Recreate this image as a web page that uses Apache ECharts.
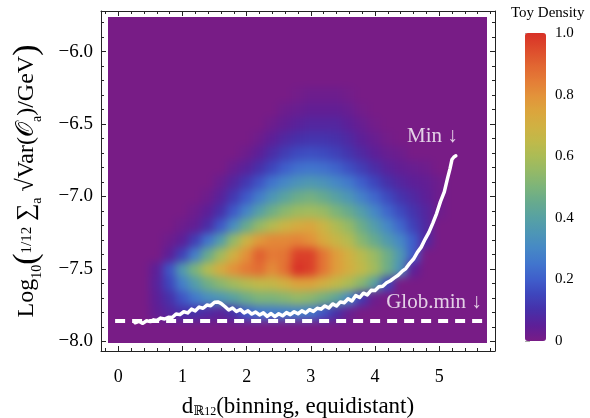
<!DOCTYPE html>
<html><head><meta charset="utf-8">
<script src="https://cdn.jsdelivr.net/npm/echarts@6/dist/echarts.min.js"></script>
<style>
html,body{margin:0;padding:0;background:#fff;}
#wrap{position:relative;width:590px;height:418px;overflow:hidden;}
#heat{position:absolute;left:0;top:0;width:590px;height:418px;background:#781c86;filter:blur(4px);clip-path:inset(17px 103px 75px 108px);}
#main{position:absolute;left:0;top:0;width:590px;height:418px;}
</style></head><body>
<div id="wrap"><div id="heat"></div><div id="main"></div></div>
<script>
// ---------------- data ----------------
const xTickValues = [0, 1, 2, 3, 4, 5];
const yTickValues = [-8.0, -7.5, -7.0, -6.5, -6.0];

const minX = [0.26,0.32,0.38,0.44,0.50,0.55,0.60,0.66,0.72,0.78,0.84,0.90,0.96,1.02,1.08,1.14,1.20,1.26,1.32,1.38,1.44,1.50,1.55,1.60,1.66,1.72,1.78,1.84,1.90,1.96,2.02,2.08,2.14,2.20,2.26,2.32,2.38,2.44,2.50,2.56,2.62,2.68,2.74,2.80,2.86,2.92,2.98,3.04,3.10,3.16,3.22,3.28,3.34,3.40,3.46,3.52,3.58,3.64,3.70,3.76,3.82,3.88,3.94,4.00,4.06,4.12,4.18,4.24,4.30,4.36,4.42,4.48,4.54,4.60,4.66,4.72,4.78,4.84,4.90,4.96,5.02,5.08,5.13,5.17,5.20,5.23,5.26];
const minY = [-7.872,-7.862,-7.876,-7.858,-7.864,-7.852,-7.856,-7.840,-7.846,-7.834,-7.836,-7.812,-7.816,-7.796,-7.804,-7.778,-7.790,-7.764,-7.772,-7.750,-7.754,-7.730,-7.728,-7.738,-7.760,-7.784,-7.770,-7.794,-7.780,-7.804,-7.790,-7.812,-7.798,-7.818,-7.804,-7.828,-7.808,-7.830,-7.810,-7.824,-7.802,-7.816,-7.796,-7.810,-7.790,-7.804,-7.782,-7.794,-7.772,-7.778,-7.756,-7.770,-7.742,-7.756,-7.728,-7.734,-7.706,-7.722,-7.684,-7.698,-7.668,-7.680,-7.648,-7.650,-7.624,-7.620,-7.596,-7.582,-7.562,-7.544,-7.518,-7.498,-7.462,-7.432,-7.386,-7.350,-7.296,-7.248,-7.186,-7.118,-7.036,-6.968,-6.876,-6.806,-6.745,-6.728,-6.720];

const globMinY = -7.86;
const globMinX = [-0.05, 5.74];

const densityX = [0.6,0.8,1.0,1.2,1.4,1.6,1.8,2.0,2.2,2.4,2.6,2.8,3.0,3.2,3.4,3.6,3.8,4.0,4.2,4.4,4.6,4.8,5.0,5.2,5.4];
const densityY = [-7.8,-7.7,-7.6,-7.5,-7.4,-7.3,-7.2,-7.1,-7.0,-6.9,-6.8,-6.7,-6.6,-6.5,-6.4,-6.3];
const density = [
 [0.04,0.07,0.10,0.10,0.08,0.06,0.10,0.20,0.25,0.26,0.27,0.28,0.26,0.18,0.10,0.03,0,0,0,0,0,0,0,0,0],
 [0.05,0.10,0.18,0.26,0.32,0.35,0.40,0.46,0.50,0.50,0.52,0.55,0.53,0.48,0.42,0.30,0.12,0.02,0,0,0,0,0,0,0],
 [0.06,0.15,0.28,0.38,0.47,0.53,0.58,0.62,0.65,0.66,0.70,0.75,0.75,0.70,0.65,0.60,0.52,0.40,0.15,0,0,0,0,0,0],
 [0.05,0.18,0.37,0.50,0.62,0.72,0.80,0.85,0.88,0.81,0.87,1.00,0.97,0.86,0.77,0.71,0.65,0.58,0.47,0.34,0.05,0,0,0,0],
 [0,0.05,0.14,0.28,0.45,0.58,0.70,0.80,0.91,0.85,0.86,0.97,0.97,0.86,0.77,0.70,0.63,0.56,0.47,0.36,0.20,0,0,0,0],
 [0,0.02,0.05,0.13,0.25,0.38,0.55,0.68,0.78,0.82,0.82,0.83,0.80,0.73,0.67,0.62,0.52,0.45,0.37,0.30,0.20,0.08,0,0,0],
 [0,0,0.02,0.04,0.09,0.19,0.32,0.45,0.55,0.62,0.68,0.72,0.74,0.68,0.61,0.55,0.46,0.38,0.30,0.22,0.14,0.08,0,0,0],
 [0,0,0,0.02,0.05,0.10,0.19,0.29,0.39,0.47,0.53,0.57,0.58,0.56,0.50,0.45,0.38,0.30,0.22,0.16,0.11,0.07,0.02,0,0],
 [0,0,0,0,0.02,0.06,0.12,0.19,0.27,0.35,0.41,0.46,0.48,0.45,0.40,0.35,0.28,0.22,0.16,0.11,0.08,0.05,0.02,0,0],
 [0,0,0,0,0,0.03,0.07,0.12,0.18,0.25,0.30,0.34,0.36,0.34,0.30,0.26,0.20,0.15,0.10,0.07,0.05,0.04,0.02,0,0],
 [0,0,0,0,0,0,0.03,0.06,0.10,0.15,0.20,0.24,0.25,0.24,0.21,0.17,0.13,0.09,0.06,0.04,0.03,0.02,0,0,0],
 [0,0,0,0,0,0,0,0.02,0.05,0.09,0.13,0.16,0.17,0.16,0.14,0.11,0.08,0.05,0.03,0.02,0,0,0,0,0],
 [0,0,0,0,0,0,0,0,0.02,0.05,0.08,0.10,0.11,0.11,0.10,0.08,0.05,0.03,0.01,0,0,0,0,0,0],
 [0,0,0,0,0,0,0,0,0,0.02,0.04,0.06,0.07,0.07,0.07,0.05,0.03,0.01,0,0,0,0,0,0,0],
 [0,0,0,0,0,0,0,0,0,0,0.02,0.03,0.04,0.04,0.04,0.03,0.01,0,0,0,0,0,0,0,0],
 [0,0,0,0,0,0,0,0,0,0,0,0.01,0.02,0.02,0.02,0.01,0,0,0,0,0,0,0,0,0]
];

// ---------------- styles ----------------
const FONT = "'Liberation Serif','DejaVu Serif',serif";
const rainbow = ['#781c86','#5d1f98','#4730a9','#3e45bc','#3f5ecb','#4175cd','#4688c6','#4d96b6','#57a1a3','#67aa8e','#7cb47a','#94b967','#abbc56','#c1b949','#d1b042','#dca43c','#e3913a','#e47a36','#e16331','#dd4a2c','#d83127'];
const X_MIN = -0.27, X_MAX = 5.87, Y_MIN = -8.067, Y_MAX = -5.72;
const GRID = {left: 101, right: 95, top: 11, bottom: 67, containLabel: false, outerBoundsMode: 'none'};
const FRAME = '#222';

const minorX = [];
for (let k = -1; k <= 29; k++) { if (k % 5 !== 0) minorX.push(+(k * 0.2).toFixed(2)); }
const minorY = [];
for (let k = -80; k <= -58; k++) { if (k % 5 !== 0) minorY.push(+(k * 0.1).toFixed(2)); }

function fmtY(v) { return (v < 0 ? '\u2212' : '') + Math.abs(v).toFixed(1); }

// ---------------- density layer (blurred, underneath) ----------------
const cells = [];
densityY.forEach((y, i) => densityX.forEach((x, j) => cells.push([x, y, density[i][j]])));
const DX = densityX[1] - densityX[0];
const DY = densityY[1] - densityY[0];

const heat = echarts.init(document.getElementById('heat'));
heat.setOption({
  animation: false,
  backgroundColor: 'transparent',
  grid: Object.assign({}, GRID),
  xAxis: {type: 'value', min: X_MIN, max: X_MAX, show: false},
  yAxis: {type: 'value', min: Y_MIN, max: Y_MAX, show: false},
  visualMap: {type: 'continuous', show: false, min: 0, max: 1, dimension: 2, inRange: {color: rainbow}},
  series: [{
    type: 'custom',
    data: cells,
    encode: {x: 0, y: 1},
    renderItem: function (params, api) {
      const x = api.value(0), y = api.value(1);
      const p0 = api.coord([x - DX / 2, y + DY / 2]);
      const p1 = api.coord([x + DX / 2, y - DY / 2]);
      return {type: 'rect', shape: {x: p0[0] - 0.5, y: p0[1] - 0.5, width: p1[0] - p0[0] + 1, height: p1[1] - p0[1] + 1}, style: {fill: api.visual('color')}};
    }
  }]
});

// ---------------- main chart ----------------
const chart = echarts.init(document.getElementById('main'));
const tickStyle = {color: FRAME, width: 1};
function xa(extra) {
  return Object.assign({type: 'value', gridIndex: 0, min: X_MIN, max: X_MAX, splitLine: {show: false},
    axisLine: {show: false, onZero: false}, axisLabel: {show: false}, axisTick: {show: false}}, extra);
}
function ya(extra) {
  return Object.assign({type: 'value', gridIndex: 0, min: Y_MIN, max: Y_MAX, splitLine: {show: false},
    axisLine: {show: false, onZero: false}, axisLabel: {show: false}, axisTick: {show: false}}, extra);
}

chart.setOption({
  animation: false,
  backgroundColor: 'transparent',
  title: {text: 'Toy Density', left: 511, top: 6, padding: 0,
    textStyle: {fontFamily: FONT, fontSize: 15, fontWeight: 'normal', color: '#000'}},
  grid: [Object.assign({}, GRID), {left: 525, top: 33, width: 21, height: 308, containLabel: false, outerBoundsMode: 'none'}],
  xAxis: [
    xa({position: 'bottom',
      axisLine: {show: true, onZero: false, lineStyle: {color: FRAME, width: 1}},
      axisTick: {show: true, inside: true, length: 5, lineStyle: tickStyle, customValues: xTickValues},
      axisLabel: {show: true, customValues: xTickValues, fontFamily: FONT, fontSize: 18, color: '#000', margin: 17},
      name: 'd{s|ℝ}{p|12}(binning, equidistant)', nameLocation: 'middle', nameGap: 44,
      nameTextStyle: {fontFamily: FONT, fontSize: 23, color: '#000',
        rich: {s: {fontFamily: FONT, fontSize: 13, color: '#000', verticalAlign: 'bottom'},
               p: {fontFamily: FONT, fontSize: 12, color: '#000', verticalAlign: 'bottom'}}}
    }),
    xa({position: 'bottom', axisTick: {show: true, inside: true, length: 3, lineStyle: tickStyle, customValues: minorX}}),
    xa({position: 'top', axisLine: {show: true, onZero: false, lineStyle: {color: FRAME, width: 1}},
      axisTick: {show: true, inside: true, length: 5, lineStyle: tickStyle, customValues: xTickValues}}),
    xa({position: 'top', axisTick: {show: true, inside: true, length: 3, lineStyle: tickStyle, customValues: minorX}}),
    {type: 'value', gridIndex: 1, min: 0, max: 1, show: false}
  ],
  yAxis: [
    ya({position: 'left',
      axisLine: {show: true, onZero: false, lineStyle: {color: FRAME, width: 1}},
      axisTick: {show: true, inside: true, length: 5, lineStyle: tickStyle, customValues: yTickValues},
      axisLabel: {show: true, customValues: yTickValues, formatter: fmtY, fontFamily: FONT, fontSize: 19, color: '#000', margin: 8},
      name: '{n|Log}{s|10}{b|(}{f|1/12}{n| ∑}{s|a}{n| √Var(}{n|𝒪}{s|a}{n|)/GeV}{b|)}',
      nameLocation: 'middle', nameRotate: 90, nameGap: 57,
      nameTextStyle: {fontFamily: FONT, fontSize: 23, color: '#000',
        rich: {n: {fontFamily: FONT, fontSize: 24, color: '#000'},
               s: {fontFamily: FONT, fontSize: 14, color: '#000', verticalAlign: 'bottom'},
               f: {fontFamily: FONT, fontSize: 15, color: '#000'},
               b: {fontFamily: FONT, fontSize: 34, color: '#000'}}}
    }),
    ya({position: 'left', axisTick: {show: true, inside: true, length: 3, lineStyle: tickStyle, customValues: minorY}}),
    ya({position: 'right', axisLine: {show: true, onZero: false, lineStyle: {color: FRAME, width: 1}},
      axisTick: {show: true, inside: true, length: 5, lineStyle: tickStyle, customValues: yTickValues}}),
    ya({position: 'right', axisTick: {show: true, inside: true, length: 3, lineStyle: tickStyle, customValues: minorY}}),
    {type: 'value', gridIndex: 1, position: 'right', min: 0, max: 1, interval: 0.2,
      splitLine: {show: false}, axisLine: {show: false},
      axisTick: {show: true, length: 5, lineStyle: {color: '#aaa', width: 1}},
      minorTick: {show: true, splitNumber: 4, length: 3, lineStyle: {color: '#bbb', width: 1}},
      axisLabel: {fontFamily: FONT, fontSize: 15, color: '#000', margin: 9,
        formatter: v => (v === 0 ? '0' : v.toFixed(1))}}
  ],
  visualMap: {type: 'continuous', show: true, seriesIndex: 0, min: 0, max: 1, calculable: false,
    left: 525, top: 33, padding: 0, itemWidth: 21, itemHeight: 308, text: null, showLabel: false,
    inRange: {color: rainbow}},
  series: [
    {type: 'custom', xAxisIndex: 0, yAxisIndex: 0, data: [], renderItem: () => null},
    {type: 'line', xAxisIndex: 0, yAxisIndex: 0, showSymbol: false, silent: true, z: 3,
      data: globMinX.map(x => [x, globMinY]),
      lineStyle: {color: '#fff', width: 4, type: [10, 7], cap: 'butt'}},
    {type: 'line', xAxisIndex: 0, yAxisIndex: 0, showSymbol: false, silent: true, z: 4,
      data: minX.map((x, i) => [x, minY[i]]),
      lineStyle: {color: '#fff', width: 3.5, join: 'round', cap: 'round'}},
    {type: 'scatter', xAxisIndex: 0, yAxisIndex: 0, symbolSize: 0, silent: true, z: 5,
      data: [
        {value: [5.29, -6.586], label: {formatter: 'Min ↓'}},
        {value: [5.665, -7.731], label: {formatter: 'Glob.min ↓'}}
      ],
      label: {show: true, position: 'left', distance: 0, color: '#fff', fontFamily: FONT, fontSize: 21}}
  ]
});
</script>
</body></html>
